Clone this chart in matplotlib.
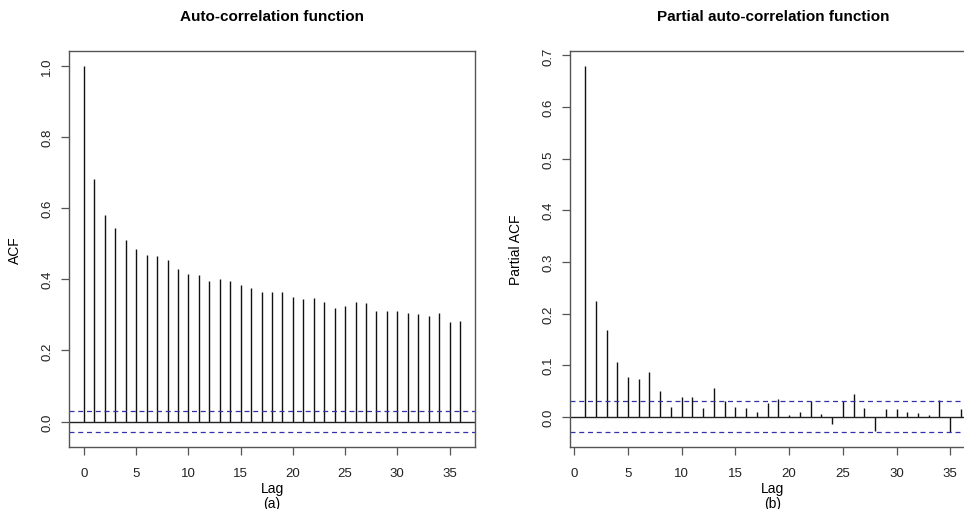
import numpy as np
import matplotlib.pyplot as plt

plt.rcParams['font.family'] = ['Liberation Sans', 'DejaVu Sans']

# ACF values, lags 0..36
acf_lags = np.arange(0, 37)
acf_vals = [1.000, 0.682, 0.581, 0.544, 0.511, 0.484, 0.469, 0.466, 0.454, 0.428,
            0.416, 0.411, 0.396, 0.400, 0.394, 0.385, 0.376, 0.365, 0.363, 0.365,
            0.351, 0.344, 0.347, 0.336, 0.320, 0.324, 0.337, 0.333, 0.310, 0.310,
            0.310, 0.306, 0.302, 0.297, 0.306, 0.281, 0.284]

# PACF values, lags 1..36
pacf_lags = np.arange(1, 37)
pacf_vals = [0.680, 0.224, 0.169, 0.106, 0.078, 0.074, 0.086, 0.051, 0.019, 0.038,
             0.039, 0.018, 0.055, 0.030, 0.020, 0.018, 0.010, 0.027, 0.034, 0.003,
             0.010, 0.030, 0.005, -0.013, 0.030, 0.045, 0.018, -0.027, 0.016, 0.015,
             0.010, 0.007, 0.004, 0.032, -0.030, 0.016]

ci = 0.03  # 1.96/sqrt(n)

W, H = 964, 510
fig = plt.figure(figsize=(W / 100, H / 100), dpi=100)

ax1 = fig.add_axes([69 / W, 1 - 448 / H, 406 / W, 396 / H])
ax2 = fig.add_axes([570 / W, 1 - 448 / H, 406 / W, 396 / H])


def r_range(lo, hi):
    pad = 0.04 * (hi - lo)
    return lo - pad, hi + pad


def acf_panel(ax, lags, vals, title, ylabel, sub, yticks):
    ax.vlines(lags, 0, vals, color='#111111', lw=1)
    ax.axhline(0, color='#222222', lw=1)
    for c in (ci, -ci):
        ax.axhline(c, color='#3232a8', lw=0.9, ls=(0, (4, 3)))
    ax.set_xlim(*r_range(min(lags), max(lags)))
    ax.set_ylim(*r_range(min(min(vals), -ci), max(vals)))
    ax.set_xticks(np.arange(0, 36, 5))
    ax.set_yticks(yticks)
    ax.set_yticklabels([f'{t:.1f}' for t in yticks], rotation=90, va='center')
    ax.tick_params(direction='out', length=5.5, width=0.9, labelsize=9.5,
                   color='#555555', labelcolor='#222222')
    ax.tick_params(axis='x', pad=9)
    ax.tick_params(axis='y', pad=6)
    for s in ax.spines.values():
        s.set_color('#555555')
        s.set_linewidth(1)
    ax.set_title(title, fontsize=11, fontweight='bold', pad=22)
    ax.set_xlabel('Lag\n' + sub, fontsize=10, linespacing=1.15, labelpad=1)
    ax.set_ylabel(ylabel, fontsize=10, labelpad=14)


acf_panel(ax1, acf_lags, acf_vals, 'Auto-correlation function', 'ACF', '(a)',
          np.arange(0, 1.01, 0.2))
acf_panel(ax2, pacf_lags, pacf_vals, 'Partial auto-correlation function',
          'Partial ACF', '(b)', np.arange(0, 0.71, 0.1))

fig.savefig('out.png', dpi=100)
